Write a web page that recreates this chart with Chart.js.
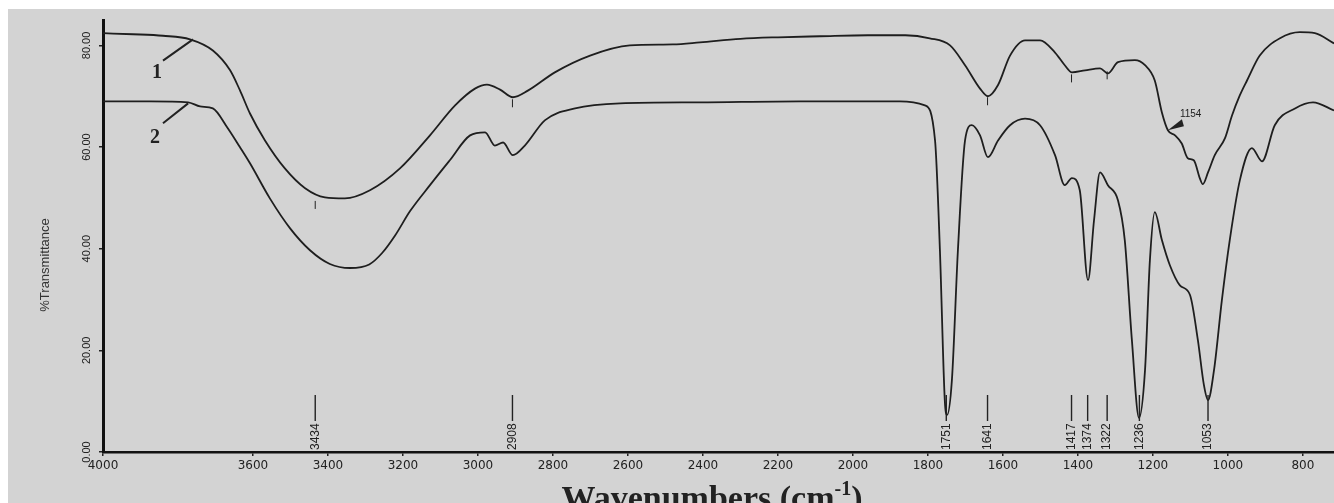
<!DOCTYPE html>
<html>
<head>
<meta charset="utf-8">
<script src="https://cdn.jsdelivr.net/npm/chart.js@4.4.1/dist/chart.umd.min.js"></script>
<style>
body{margin:0;background:#fff;width:1334px;height:503px;overflow:hidden}
#wrap{position:absolute;left:8px;top:9px;width:1326px;height:494px;background:#d3d3d3}
</style>
</head>
<body>
<div id="wrap"><canvas id="ftir"></canvas></div>
<script>
// spectrum 1 (upper trace)
var wn1 = [4000, 3920, 3840, 3768, 3707, 3661, 3635, 3608, 3568, 3515,
  3461, 3408, 3355, 3288, 3208, 3128, 3061, 3008, 2976, 2941,
  2907, 2867, 2795, 2701, 2595, 2480, 2408, 2300, 2200, 2088,
  1960, 1860, 1795, 1741, 1701, 1661, 1640, 1613, 1581, 1541,
  1501, 1461, 1435, 1416, 1381, 1341, 1320, 1293, 1248, 1221,
  1195, 1176, 1160, 1141, 1123, 1107, 1091, 1075, 1067, 1053,
  1035, 1008, 989, 968, 949, 915, 861, 808, 768, 717];
var tr1 = [82.4, 82.2, 81.9, 81.2, 79.0, 75.1, 71.2, 66.6, 61.3, 55.8,
  51.9, 50.1, 49.9, 51.5, 55.8, 62.3, 68.2, 71.5, 72.3, 71.3,
  69.8, 71.1, 74.7, 78.0, 80.0, 80.2, 80.6, 81.3, 81.6, 81.8,
  82.0, 82.0, 81.4, 80.0, 76.1, 71.5, 70.0, 72.2, 78.0, 81.0,
  81.0, 78.6, 76.1, 74.7, 75.1, 75.5, 74.5, 76.7, 77.1, 76.1,
  73.1, 66.8, 63.3, 62.3, 60.7, 57.8, 57.4, 53.9, 52.7, 55.0,
  58.4, 61.7, 66.2, 70.2, 73.1, 78.0, 81.4, 82.6, 82.4, 80.4];

// spectrum 2 (lower trace)
var wn2 = [4000, 3875, 3773, 3741, 3707, 3669, 3635, 3608, 3555, 3501,
  3448, 3395, 3341, 3290, 3255, 3221, 3181, 3128, 3075, 3021,
  2981, 2955, 2933, 2907, 2875, 2821, 2741, 2621, 2408, 2141,
  1875, 1808, 1781, 1768, 1755, 1749, 1736, 1720, 1701, 1683,
  1661, 1640, 1613, 1581, 1541, 1501, 1461, 1435, 1416, 1395,
  1373, 1357, 1341, 1320, 1293, 1275, 1256, 1237, 1221, 1208,
  1195, 1176, 1155, 1128, 1101, 1080, 1064, 1053, 1037, 1016,
  995, 968, 936, 909, 875, 821, 773, 717];
var tr2 = [69.0, 69.0, 68.8, 68.0, 67.6, 63.9, 60.0, 56.8, 49.9, 44.0,
  39.7, 37.0, 36.2, 36.9, 39.2, 42.6, 47.4, 52.5, 57.4, 62.3,
  62.9, 60.3, 60.9, 58.4, 60.3, 65.3, 67.6, 68.6, 68.8, 69.0,
  69.0, 68.2, 61.3, 39.7, 10.2, 7.3, 14.2, 39.7, 61.3, 64.3,
  62.3, 58.0, 61.3, 64.3, 65.6, 64.3, 58.4, 52.5, 53.9, 51.5,
  33.8, 45.6, 55.0, 52.5, 49.5, 41.7, 22.0, 6.7, 16.1, 37.7,
  47.2, 41.7, 36.8, 32.8, 30.9, 22.0, 13.2, 10.2, 16.1, 29.9,
  41.7, 53.5, 59.8, 57.2, 64.3, 67.6, 68.8, 67.2];

var xTicks = [4000, 3600, 3400, 3200, 3000, 2800, 2600, 2400, 2200, 2000, 1800, 1600, 1400, 1200, 1000, 800];
var yTicks = [0, 20, 40, 60, 80];
var peaks = [3434, 2908, 1751, 1641, 1417, 1374, 1322, 1236, 1053];
// little marks under trace 1: [wavenumber, top of mark]
var marks1 = [[3434, 49.4], [2908, 69.4], [1641, 69.8], [1417, 74.3], [1322, 74.9]];

function pts(xs, ys) {
  return xs.map(function (v, i) { return { x: v, y: ys[i] }; });
}

var extras = {
  id: 'extras',
  afterDatasetsDraw: function (chart) {
    var ctx = chart.ctx, xs = chart.scales.x, ys = chart.scales.y, a = chart.chartArea;
    ctx.save();
    ctx.fillStyle = '#222';
    ctx.strokeStyle = '#222';

    // y tick labels, rotated
    ctx.font = '11px "Liberation Sans", Arial';
    ctx.textAlign = 'center';
    ctx.textBaseline = 'middle';
    yTicks.forEach(function (v) {
      ctx.save();
      ctx.translate(a.left - 16, ys.getPixelForValue(v));
      ctx.rotate(-Math.PI / 2);
      ctx.fillText(v.toFixed(2), 0, 0);
      ctx.restore();
    });

    // y title
    ctx.save();
    ctx.font = '13px "Liberation Sans", Arial';
    ctx.fillStyle = '#333';
    ctx.translate(37, 256);
    ctx.rotate(-Math.PI / 2);
    ctx.fillText('%Transmittance', 0, 0);
    ctx.restore();

    // peak labels along the bottom
    ctx.font = '12px "Liberation Sans", Arial';
    ctx.textAlign = 'left';
    ctx.lineWidth = 1.4;
    peaks.forEach(function (p) {
      var px = xs.getPixelForValue(p);
      ctx.beginPath();
      ctx.moveTo(px, a.bottom - 31);
      ctx.lineTo(px, a.bottom - 57);
      ctx.stroke();
      ctx.save();
      ctx.translate(px, a.bottom - 2);
      ctx.rotate(-Math.PI / 2);
      ctx.fillText(String(p), 0, 0);
      ctx.restore();
    });

    // small marks below trace 1
    ctx.lineWidth = 1;
    marks1.forEach(function (m) {
      var px = xs.getPixelForValue(m[0]), py = ys.getPixelForValue(m[1]);
      ctx.beginPath();
      ctx.moveTo(px, py);
      ctx.lineTo(px, py + 8);
      ctx.stroke();
    });

    // trace labels 1 and 2 with leaders
    ctx.lineWidth = 2;
    ctx.beginPath();
    ctx.moveTo(xs.getPixelForValue(3840), ys.getPixelForValue(77.0));
    ctx.lineTo(xs.getPixelForValue(3760), ys.getPixelForValue(81.2));
    ctx.moveTo(xs.getPixelForValue(3840), ys.getPixelForValue(64.7));
    ctx.lineTo(xs.getPixelForValue(3773), ys.getPixelForValue(68.6));
    ctx.stroke();
    ctx.font = 'bold 20px "Liberation Serif", serif';
    ctx.textAlign = 'center';
    ctx.fillText('1', xs.getPixelForValue(3856), ys.getPixelForValue(74.7));
    ctx.fillText('2', xs.getPixelForValue(3861), ys.getPixelForValue(61.9));

    // 1154 arrow
    var tx = xs.getPixelForValue(1160), ty = ys.getPixelForValue(63.3);
    ctx.beginPath();
    ctx.moveTo(tx, ty);
    ctx.lineTo(tx + 14, ty - 11);
    ctx.lineTo(tx + 16, ty - 4);
    ctx.closePath();
    ctx.fill();
    ctx.font = '10px "Liberation Sans", Arial';
    ctx.textAlign = 'left';
    ctx.fillText('1154', tx + 12, ty - 16);

    // x title with superscript
    ctx.font = 'bold 34px "Liberation Serif", serif';
    var t1 = 'Wavenumbers (cm', t3 = ')';
    var w1 = ctx.measureText(t1).width, w3 = ctx.measureText(t3).width;
    ctx.font = 'bold 20px "Liberation Serif", serif';
    var w2 = ctx.measureText('-1').width;
    var x0 = 704 - (w1 + w2 + w3) / 2, base = 500;
    ctx.textBaseline = 'alphabetic';
    ctx.font = 'bold 34px "Liberation Serif", serif';
    ctx.fillText(t1, x0, base);
    ctx.font = 'bold 20px "Liberation Serif", serif';
    ctx.fillText('-1', x0 + w1, base - 14);
    ctx.font = 'bold 34px "Liberation Serif", serif';
    ctx.fillText(t3, x0 + w1 + w2, base);
    ctx.restore();
  }
};

new Chart(document.getElementById('ftir'), {
  type: 'line',
  data: {
    datasets: [
      { label: '1', data: pts(wn1, tr1), borderColor: '#1e1e1e', borderWidth: 1.8, pointRadius: 0, cubicInterpolationMode: 'monotone' },
      { label: '2', data: pts(wn2, tr2), borderColor: '#1e1e1e', borderWidth: 1.8, pointRadius: 0, cubicInterpolationMode: 'monotone' }
    ]
  },
  options: {
    responsive: true,
    maintainAspectRatio: false,
    animation: false,
    layout: { padding: { left: 0, top: 11, right: 0, bottom: 0 } },
    plugins: { legend: { display: false }, tooltip: { enabled: false } },
    scales: {
      x: {
        type: 'linear',
        reverse: true,
        min: 717,
        max: 4000,
        afterBuildTicks: function (s) { s.ticks = xTicks.map(function (v) { return { value: v }; }); },
        afterFit: function (s) { s.height = 51; },
        ticks: {
          autoSkip: false,
          maxRotation: 0,
          padding: 3,
          color: '#222',
          font: { family: 'DejaVu Sans', size: 12 },
          callback: function (v) { return String(v); }
        },
        grid: { drawOnChartArea: false, drawTicks: true, tickLength: 4, color: '#222', lineWidth: 1.5 },
        border: { display: true, color: '#111', width: 2.5 }
      },
      y: {
        min: 0,
        max: 85,
        afterBuildTicks: function (s) { s.ticks = yTicks.map(function (v) { return { value: v }; }); },
        afterFit: function (s) { s.width = 95; },
        ticks: { display: false },
        grid: { drawOnChartArea: false, drawTicks: true, tickLength: 4, color: '#222', lineWidth: 1.5 },
        border: { display: true, color: '#111', width: 3 }
      }
    }
  },
  plugins: [extras]
});
</script>
</body>
</html>
